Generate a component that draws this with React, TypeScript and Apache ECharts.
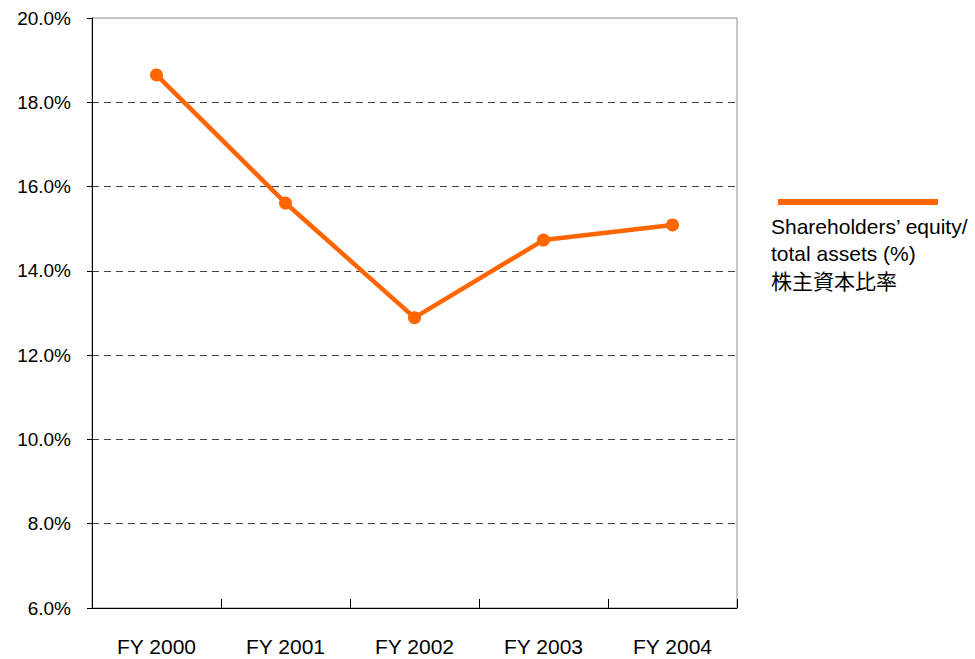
import React, { useEffect, useRef } from "react";
import * as echarts from "echarts";

const categories = ["FY 2000", "FY 2001", "FY 2002", "FY 2003", "FY 2004"];
const equityRatio = [18.65, 15.61, 12.89, 14.73, 15.09];
const legendLines = ["Shareholders’ equity/", "total assets (%)", "株主資本比率"];
const yMin = 6;
const yMax = 20;
const yStep = 2;

const ORANGE = "#FF6600";

export default function App() {
  const ref = useRef<HTMLDivElement>(null);

  useEffect(() => {
    if (!ref.current) return;
    const chart = echarts.init(ref.current, undefined, { renderer: "svg" });
    chart.setOption({
      animation: false,
      backgroundColor: "#ffffff",
      grid: {
        left: 92,
        top: 18,
        right: 238,
        bottom: 51,
        show: true,
        borderColor: "#8a8a8a",
        borderWidth: 1,
        backgroundColor: "transparent",
      },
      xAxis: {
        type: "category",
        data: categories,
        boundaryGap: true,
        axisLine: { show: true, lineStyle: { color: "#000", width: 1 } },
        axisTick: { show: true, inside: true, length: 9, alignWithLabel: false, lineStyle: { color: "#000" } },
        axisLabel: {
          color: "#000",
          fontSize: 21,
          fontFamily: "'Liberation Sans', Arial, sans-serif",
          margin: 28,
        },
        splitLine: { show: false },
      },
      yAxis: {
        type: "value",
        min: yMin,
        max: yMax,
        interval: yStep,
        axisLine: { show: true, lineStyle: { color: "#000", width: 1 } },
        axisTick: { show: true, inside: false, length: 5, lineStyle: { color: "#000" } },
        axisLabel: {
          color: "#000",
          fontSize: 19,
          fontFamily: "'Liberation Sans', Arial, sans-serif",
          margin: 21,
          formatter: (v: number) => `${v.toFixed(1)}%`,
        },
        splitLine: {
          show: true,
          showMinLine: false,
          showMaxLine: false,
          lineStyle: { color: "#444", type: [7, 5], width: 1 },
        },
      },
      series: [
        {
          type: "line",
          data: equityRatio,
          color: ORANGE,
          lineStyle: { color: ORANGE, width: 4.5 },
          itemStyle: { color: ORANGE },
          symbol: "circle",
          symbolSize: 13,
          showSymbol: true,
        },
      ],
      graphic: [
        {
          type: "line",
          shape: { x1: 778, y1: 202, x2: 938, y2: 202 },
          style: { stroke: ORANGE, lineWidth: 6 },
        },
        ...legendLines.map((t, i) => ({
          type: "text",
          x: 771,
          y: 226 + i * 27,
          style: {
            text: t,
            fill: "#000",
            fontSize: 21,
            fontFamily: i === 2 ? "'Noto Sans CJK JP', sans-serif" : "'Liberation Sans', Arial, sans-serif",
            textAlign: "left",
            textVerticalAlign: "middle",
          },
        })),
      ],
    });
    return () => chart.dispose();
  }, []);

  return (
    <div
      ref={ref}
      style={{ position: "fixed", left: 0, top: 0, width: 975, height: 659, background: "#fff" }}
    />
  );
}
